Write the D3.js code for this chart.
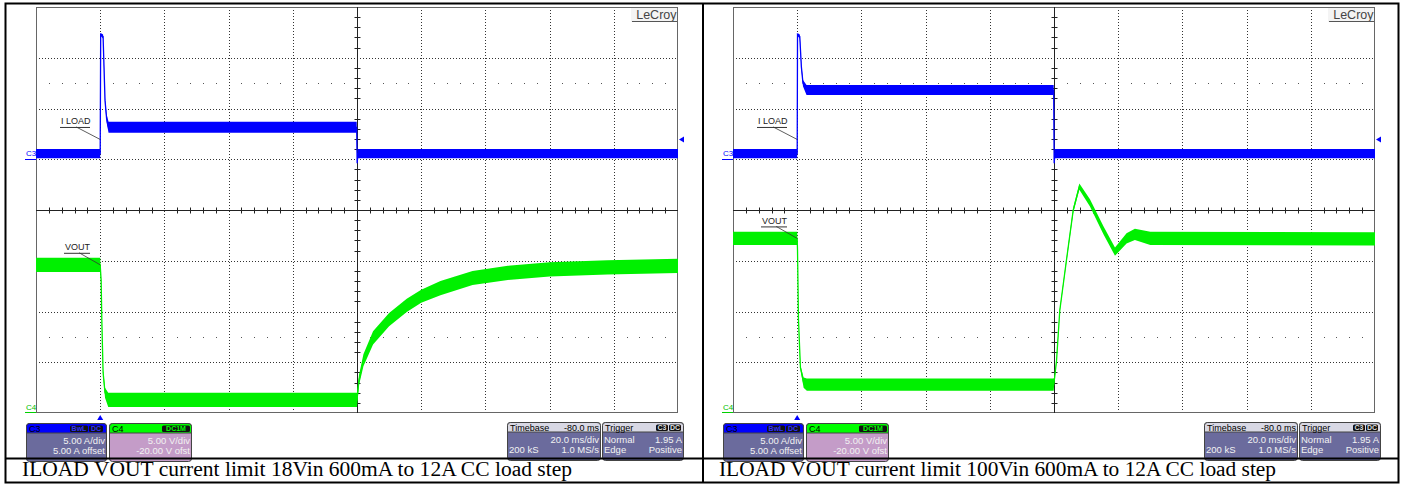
<!DOCTYPE html>
<html>
<head>
<meta charset="utf-8">
<script src="https://cdn.jsdelivr.net/npm/d3@7/dist/d3.min.js"></script>
<style>
    body { margin: 0; background: #fff; }
    svg text { font-family: 'Liberation Sans', Arial, sans-serif; }
</style>
</head>
<body>
<svg id="chart" width="1405" height="485"></svg>
<script>
// each point: [time ms, value, noise band peak-to-peak]
let iload18 = [[-20, 0.55, 0.9], [0, 0.55, 0.9], [0.15, 12.3, 0.3], [0.9, 12.1, 0.4], [1.5, 5.8, 0.4],
    [2.0, 4.0, 0.8], [2.6, 3.15, 1.1], [79.9, 3.15, 1.1], [80.05, -0.4, 0.2], [80.3, 0.55, 0.9], [180, 0.55, 0.9]]
let vout18 = [[-20, 14.6, 1.4], [0, 14.6, 1.4], [0.3, 13.0, 0.3], [0.5, 9.2, 0.3], [0.9, 4.0, 0.5],
    [1.5, 2.0, 1.0], [2.5, 1.3, 1.4], [80, 1.3, 1.4], [80.6, 3.2, 1.0], [82, 5.2, 1.2], [85, 7.4, 1.3],
    [90, 9.2, 1.3], [95.5, 10.6, 1.3], [100, 11.5, 1.3], [106, 12.3, 1.4], [116, 13.3, 1.4],
    [127, 13.8, 1.4], [140, 14.15, 1.4], [158, 14.35, 1.4], [180, 14.5, 1.4]]
let iload100 = [[-20, 0.55, 0.9], [0, 0.55, 0.9], [0.1, 12.3, 0.3], [0.8, 12.1, 0.4], [1.3, 9.1, 0.4],
    [1.8, 7.5, 0.6], [2.9, 6.82, 1.0], [79.9, 6.82, 1.0], [80.05, -0.4, 0.2], [80.3, 0.55, 0.9], [180, 0.55, 0.9]]
let vout100 = [[-20, 17.2, 1.3], [0, 17.2, 1.3], [0.1, 16.0, 0.2], [0.4, 9.2, 0.2], [1.0, 4.5, 0.4],
    [2.0, 3.0, 1.0], [3, 2.8, 1.2], [79.9, 2.8, 1.2], [80.2, 3.5, 0.3], [80.8, 5.2, 0.3], [81.8, 10.1, 0.3],
    [83.9, 15.1, 0.4], [86, 20.0, 0.5], [87.9, 22.3, 0.6], [91.2, 20.7, 0.7], [95.4, 18.0, 0.8],
    [99, 15.9, 0.8], [102.6, 17.2, 1.0], [105.2, 17.6, 1.1], [110, 17.2, 1.3], [180, 17.15, 1.3]]

let captions = ['ILOAD VOUT current limit 18Vin 600mA to 12A CC load step',
    'ILOAD VOUT current limit 100Vin 600mA to 12A CC load step']
let c3Info = ['5.00 A/div', '5.00 A offset']
let c4Info = ['5.00 V/div', '-20.00 V ofst']
let timebaseInfo = ['Timebase', '-80.0 ms', '20.0 ms/div', '200 kS', '1.0 MS/s']
let triggerInfo = ['Trigger', 'Normal', '1.95 A', 'Edge', 'Positive']

let timeDomain = [-20, 180]
let ampDomain = [-25, 15]
let voltDomain = [0, 40]
let triggerLevel = 1.95

let svg = d3.select('#chart')

function drawScope(ox, iData, vData, caption) {
    let g = svg.append('g').attr('transform', `translate(${ox}, 0)`)
    let x = d3.scaleLinear().domain(timeDomain).range([36, 678])
    let yI = d3.scaleLinear().domain(ampDomain).range([413, 7])
    let yV = d3.scaleLinear().domain(voltDomain).range([413, 7])
    let px = v => Math.round(v) + 0.5

    // dotted grid
    let majorT = d3.range(timeDomain[0] + 20, timeDomain[1], 20).filter(t => t != 80)
    let majorV = d3.range(voltDomain[0] + 5, voltDomain[1], 5).filter(v => v != 20)
    g.append('g').selectAll('line').data(majorT).enter().append('line')
        .attr('x1', d => px(x(d))).attr('x2', d => px(x(d)))
        .attr('y1', 7).attr('y2', 413)
        .attr('stroke', '#333').attr('stroke-dasharray', '1,2')
    g.append('g').selectAll('line').data(majorV).enter().append('line')
        .attr('x1', 36).attr('x2', 678)
        .attr('y1', d => px(yV(d))).attr('y2', d => px(yV(d)))
        .attr('stroke', '#333').attr('stroke-dasharray', '1,2')

    // sparse dot rows
    let minorT = d3.range(timeDomain[0], timeDomain[1] + 0.1, 4).filter(t => Math.abs(t % 20) > 0.1)
    ;[7.5, 32.5].forEach(v => {
        g.append('g').selectAll('rect').data(minorT).enter().append('rect')
            .attr('x', d => Math.round(x(d))).attr('y', Math.round(yV(v)))
            .attr('width', 1).attr('height', 1).attr('fill', '#555')
    })

    g.append('rect')
        .attr('x', 36.5).attr('y', 7.5).attr('width', 641).attr('height', 405)
        .attr('fill', 'none').attr('stroke', '#666')

    // center cross with minor ticks
    let cx = px(x(80)), cy = px(yV(20))
    g.append('line').attr('x1', 36).attr('x2', 678).attr('y1', cy).attr('y2', cy)
        .attr('stroke', '#222')
    g.append('line').attr('x1', cx).attr('x2', cx).attr('y1', 7).attr('y2', 413)
        .attr('stroke', '#222')
    g.append('g').selectAll('line').data(minorT).enter().append('line')
        .attr('x1', d => px(x(d))).attr('x2', d => px(x(d)))
        .attr('y1', cy - 3).attr('y2', cy + 3).attr('stroke', '#222')
    let minorV = d3.range(voltDomain[0] + 1, voltDomain[1], 1).filter(v => v % 5 != 0)
    g.append('g').selectAll('line').data(minorV).enter().append('line')
        .attr('x1', cx - 3).attr('x2', cx + 3)
        .attr('y1', d => px(yV(d))).attr('y2', d => px(yV(d))).attr('stroke', '#222')

    // traces
    let clipId = 'clip' + ox
    g.append('clipPath').attr('id', clipId).append('rect')
        .attr('x', 36).attr('y', 7).attr('width', 643).attr('height', 407)
    let traces = g.append('g').attr('clip-path', `url(#${clipId})`)
    let drawTrace = function(data, y, color) {
        traces.append('path').datum(data)
            .attr('d', d3.area().x(d => x(d[0])).y0(d => y(d[1] - d[2] / 2)).y1(d => y(d[1] + d[2] / 2)))
            .attr('fill', color)
        traces.append('path').datum(data)
            .attr('d', d3.line().x(d => x(d[0])).y(d => y(d[1])))
            .attr('fill', 'none').attr('stroke', color).attr('stroke-width', 1.3)
    }
    drawTrace(iData, yI, '#0000ff')
    drawTrace(vData, yV, '#00f000')

    // channel ground markers
    g.append('text').attr('x', 26).attr('y', 156).attr('font-size', 8).attr('fill', '#0000ff').text('C3')
    g.append('line').attr('x1', 25).attr('x2', 36).attr('y1', px(yI(0))).attr('y2', px(yI(0)))
        .attr('stroke', '#0000ff')
    g.append('text').attr('x', 26).attr('y', 410).attr('font-size', 8).attr('fill', '#00c000').text('C4')
    g.append('line').attr('x1', 25).attr('x2', 36).attr('y1', px(yV(0)) - 1).attr('y2', px(yV(0)) - 1)
        .attr('stroke', '#00d000')

    // trigger markers
    g.append('path')
        .attr('d', `M679,${yI(triggerLevel)} L684,${yI(triggerLevel) - 3} L684,${yI(triggerLevel) + 3} Z`)
        .attr('fill', '#0000ff')
    g.append('path')
        .attr('d', `M${x(0)},415 L${x(0) - 3},420 L${x(0) + 3},420 Z`)
        .attr('fill', '#0000ff')

    // trace labels
    let vStart = vData[0][1]
    let labels = [
        {text: 'I LOAD', tx: 61, ex: x(0), ey: yI(triggerLevel), dx: 24, dy: 12.5},
        {text: 'VOUT', tx: 65, ex: x(0), ey: yV(vStart), dx: 21, dy: 12}
    ]
    labels.forEach(l => {
        g.append('text').attr('x', l.tx).attr('y', l.ey - l.dy - 2.5)
            .attr('font-size', 9).attr('fill', '#222').text(l.text)
        g.append('line').attr('x1', l.tx - 1).attr('x2', 90)
            .attr('y1', l.ey - l.dy + 0.5).attr('y2', l.ey - l.dy + 0.5)
            .attr('stroke', '#333')
        g.append('line').attr('x1', l.ex - l.dx).attr('y1', l.ey - l.dy)
            .attr('x2', l.ex).attr('y2', l.ey)
            .attr('stroke', '#333').attr('stroke-width', 0.8)
    })

    // LeCroy logo
    g.append('rect').attr('x', 631).attr('y', 8).attr('width', 46).attr('height', 14).attr('fill', '#f4f4f4')
    g.append('text').attr('x', 676.5).attr('y', 19).attr('text-anchor', 'end')
        .attr('font-size', 12.5).attr('fill', '#444').text('LeCroy')
    g.append('line').attr('x1', 632).attr('x2', 677).attr('y1', 21.5).attr('y2', 21.5).attr('stroke', '#555')

    // info boxes
    drawBox(g, 26, 423, 80, '#0000ff', '#6b6b9d', 'C3', [['BwL', 70, 18], ['DC', 89, 14]], '#3030ff',
        [['', c3Info[0]], ['', c3Info[1]]])
    drawBox(g, 109, 423, 82, '#00ff00', '#c49cc8', 'C4', [['DC1M', 162, 28]], '#00ff00',
        [['', c4Info[0]], ['', c4Info[1]]])
    drawBox(g, 507, 422, 93, '#d8d8e4', '#6b6b9d', timebaseInfo[0], [], '',
        [['', timebaseInfo[2]], [timebaseInfo[3], timebaseInfo[4]]], timebaseInfo[1])
    drawBox(g, 602, 422, 81, '#d8d8e4', '#6b6b9d', triggerInfo[0], [['C3', 656, 12], ['DC', 669, 12]], '#ddd',
        [[triggerInfo[1], triggerInfo[2]], [triggerInfo[3], triggerInfo[4]]])

    // caption
    g.append('text').attr('x', 22).attr('y', 476)
        .attr('font-size', 20).attr('fill', '#000')
        .style('font-family', "'Liberation Serif', 'Times New Roman', serif")
        .attr('textLength', caption.length > 56 ? 557 : 550).attr('lengthAdjust', 'spacingAndGlyphs')
        .text(caption)
}

function drawBox(g, bx, by, bw, headFill, bodyFill, title, tags, tagColor, rows, headRight) {
    let bh = 38
    let box = g.append('g')
    box.append('rect').attr('x', bx + 0.5).attr('y', by + 0.5).attr('width', bw).attr('height', bh)
        .attr('rx', 3).attr('fill', bodyFill).attr('stroke', '#444')
    box.append('path')
        .attr('d', `M${bx + 0.5},${by + 10} L${bx + 0.5},${by + 3.5} Q${bx + 0.5},${by + 0.5} ${bx + 3.5},${by + 0.5}
            L${bx + bw - 3},${by + 0.5} Q${bx + bw + 0.5},${by + 0.5} ${bx + bw + 0.5},${by + 3.5} L${bx + bw + 0.5},${by + 10} Z`)
        .attr('fill', headFill).attr('stroke', '#444')
    box.append('text').attr('x', bx + 3).attr('y', by + 8.5).attr('font-size', 9)
        .attr('fill', '#000').text(title)
    if (headRight) {
        box.append('text').attr('x', bx + bw - 1).attr('y', by + 8.5).attr('font-size', 9)
            .attr('text-anchor', 'end').attr('fill', '#000').text(headRight)
    }
    tags.forEach(t => {
        box.append('rect').attr('x', t[1]).attr('y', by + 2.5).attr('width', t[2]).attr('height', 6.5)
            .attr('rx', 1.5).attr('fill', '#111')
        box.append('text').attr('x', t[1] + t[2] / 2).attr('y', by + 8.3).attr('text-anchor', 'middle')
            .attr('font-size', 7).attr('font-weight', 'bold').attr('fill', tagColor).text(t[0])
    })
    rows.forEach((r, i) => {
        let ty = by + 21 + i * 10
        box.append('text').attr('x', bx + 2).attr('y', ty).attr('font-size', 9.5)
            .attr('fill', '#f2f2f2').text(r[0])
        box.append('text').attr('x', bx + bw - 1).attr('y', ty).attr('font-size', 9.5)
            .attr('text-anchor', 'end').attr('fill', '#f2f2f2').text(r[1])
    })
}

drawScope(0, iload18, vout18, captions[0])
drawScope(697, iload100, vout100, captions[1])

// table borders
svg.append('rect').attr('x', 5.5).attr('y', 3.5).attr('width', 1393).attr('height', 479)
    .attr('fill', 'none').attr('stroke', '#000').attr('stroke-width', 2)
svg.append('line').attr('x1', 703).attr('x2', 703).attr('y1', 3).attr('y2', 483)
    .attr('stroke', '#000').attr('stroke-width', 2)
svg.append('line').attr('x1', 5).attr('x2', 1399).attr('y1', 458.5).attr('y2', 458.5)
    .attr('stroke', '#000').attr('stroke-width', 2)
</script>
</body>
</html>
